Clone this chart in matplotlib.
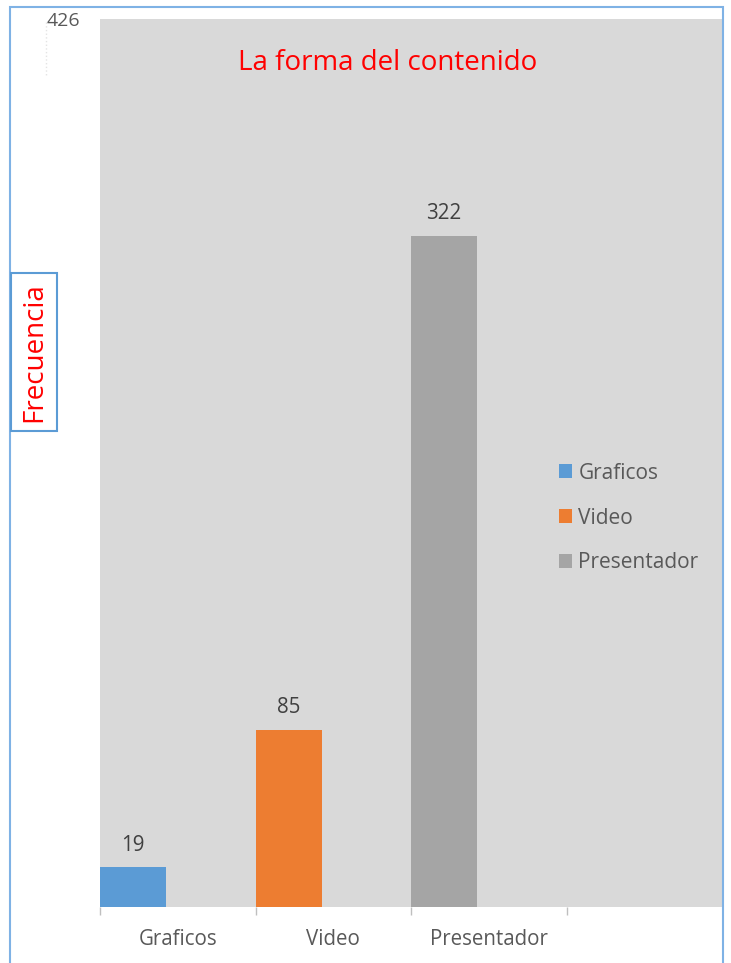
import matplotlib.pyplot as plt
from matplotlib.patches import Rectangle
from matplotlib.lines import Line2D

plt.rcParams['font.family'] = ['Open Sans', 'DejaVu Sans']

categories = ['Graficos', 'Video', 'Presentador']
values = [19, 85, 322]
colors = ['#5b9bd5', '#ed7d31', '#a5a5a5']
y_max = 426

W, H = 731, 963
fig = plt.figure(figsize=(W / 100, H / 100), dpi=100)
ax = fig.add_axes([100 / W, 1 - 907 / H, 622 / W, (907 - 19) / H])
ax.set_facecolor('#d9d9d9')

bar_w = 66 / 155.5
for i, (cat, val, col) in enumerate(zip(categories, values, colors)):
    ax.bar(i, val, width=bar_w, align='edge', color=col, label=cat, zorder=2)
    ax.text(i + bar_w / 2, val + 10.5, str(val), ha='center', va='center',
            fontsize=14.8, color='#404040')

ax.set_xlim(0, len(categories) + 1)
ax.set_ylim(0, y_max)

# slot boundaries as small ticks, labels centred in the slots
ax.set_xticks(range(len(categories) + 1))
ax.set_xticklabels([])
ax.tick_params(axis='x', which='major', length=6, color='#bfbfbf', width=1)
ax.set_xticks([i + 0.5 for i in range(len(categories))], minor=True)
ax.set_xticklabels(categories, minor=True, fontsize=14.8, color='#595959')
ax.tick_params(axis='x', which='minor', length=0, pad=16)

ax.set_yticks([y_max])
ax.set_yticklabels([str(y_max)], fontsize=14, color='#595959')
ax.tick_params(axis='y', length=0, pad=14)

for s in ax.spines.values():
    s.set_visible(False)

fig.text(388 / W, 1 - 63 / H, 'La forma del contenido', ha='center', va='center',
         fontsize=20, color='#ff0000')

fig.text(34 / W, 1 - 352 / H, 'Frecuencia', rotation=90, ha='center', va='center',
         fontsize=20, color='#ff0000',
         bbox=dict(boxstyle='square,pad=0.32', fc='white', ec='#5b9bd5', lw=1.5))

# faint dotted stub under the top value
fig.lines.append(Line2D([46 / W, 46 / W], [1 - 22 / H, 1 - 77 / H],
                        transform=fig.transFigure, color='#e4e4e4', lw=1, ls=':'))

ax.legend(loc='center left', bbox_to_anchor=(559 / W, 1 - 518 / H),
          bbox_transform=fig.transFigure, frameon=False, fontsize=15,
          labelcolor='#595959', handlelength=0.63, handleheight=0.63,
          handletextpad=0.3, labelspacing=1.15, borderpad=0, borderaxespad=0)

# outer chart border
fig.patches.append(Rectangle((10 / W, -0.05), 713 / W, 1.05 - 7 / H,
                             transform=fig.transFigure, fill=False,
                             ec='#7fb2e5', lw=1.5, zorder=0))

fig.savefig('out.png', dpi=100)
